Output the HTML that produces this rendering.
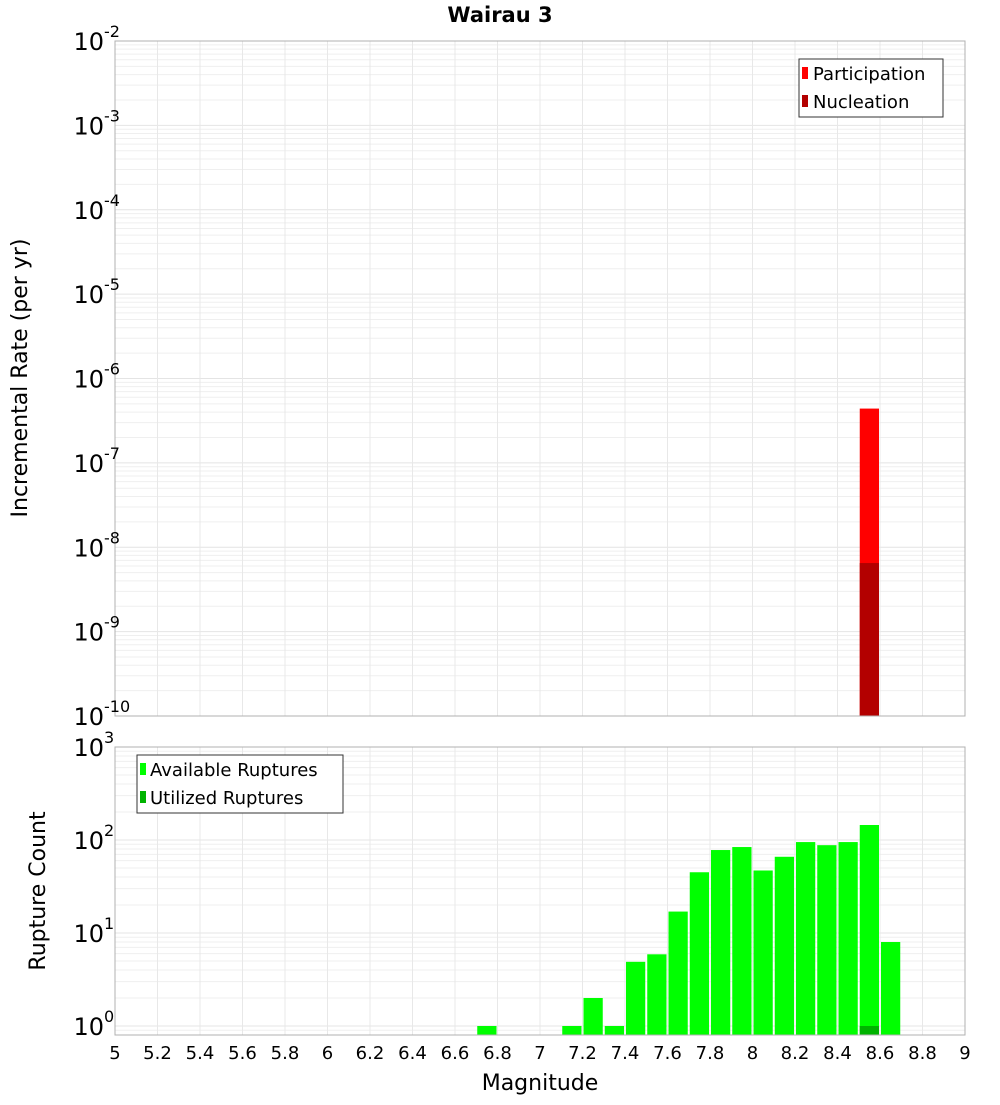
<!DOCTYPE html>
<html><head><meta charset="utf-8"><style>
body{margin:0;background:#fff}
svg{font-family:"DejaVu Sans","Liberation Sans",sans-serif}
</style></head><body>
<svg id="c" width="1000" height="1100" xmlns="http://www.w3.org/2000/svg">
<text x="500" y="22" text-anchor="middle" font-size="21" font-weight="bold">Wairau 3</text>
<g id="topPanel"></g>
<g id="botPanel"></g>
<text transform="translate(27,378) rotate(-90)" text-anchor="middle" font-size="22">Incremental Rate (per yr)</text>
<text transform="translate(45,891) rotate(-90)" text-anchor="middle" font-size="22">Rupture Count</text>
<text x="540" y="1090" text-anchor="middle" font-size="22">Magnitude</text>
<g>
<rect x="799" y="59" width="144" height="58" fill="#fff" stroke="#333"/>
<rect x="802" y="67" width="6" height="12" fill="#ff0000"/>
<text x="813" y="80" font-size="18">Participation</text>
<rect x="802" y="95" width="6" height="12" fill="#b30000"/>
<text x="813" y="108" font-size="18">Nucleation</text>
</g>
<g>
<rect x="137" y="755" width="206" height="58" fill="#fff" stroke="#333"/>
<rect x="140" y="763" width="6" height="12" fill="#00ff00"/>
<text x="150" y="776" font-size="18">Available Ruptures</text>
<rect x="140" y="791" width="6" height="12" fill="#00b300"/>
<text x="150" y="804" font-size="18">Utilized Ruptures</text>
</g>
</svg>
<script>
const xTicks=[5,5.2,5.4,5.6,5.8,6,6.2,6.4,6.6,6.8,7,7.2,7.4,7.6,7.8,8,8.2,8.4,8.6,8.8,9];
const rateBins=[8.5];
const participation=[4.4e-7];
const nucleation=[6.5e-9];
const countBins=[6.7,7.1,7.2,7.3,7.4,7.5,7.6,7.7,7.8,7.9,8.0,8.1,8.2,8.3,8.4,8.5,8.6];
const available=[1,1,2,1,4.9,5.9,17,45,78,84,47,66,95,88,95,145,8];
const utilizedBins=[8.5];
const utilized=[1];
const NS="http://www.w3.org/2000/svg";
const X0=115,X1=965;
const xs=m=>X0+(m-5)/4*(X1-X0);
function mk(p,t,a){const e=document.createElementNS(NS,t);for(const k in a)e.setAttribute(k,a[k]);p.appendChild(e);return e;}
function panel(g,yTop,yBot,eTop,eBot,lo,hi){
 const ys=v=>yTop+(eTop-Math.log10(v))/(eTop-eBot)*(yBot-yTop);
 for(let e=Math.floor(lo);e<hi;e++)for(let k=1;k<10;k++){const v=k*Math.pow(10,e);const y=ys(v);if(y<yTop||y>yBot)continue;
  const l=mk(g,'line',{x1:X0,x2:X1,y1:y,y2:y,stroke:k==1?'#e4e4e4':'#efefef','stroke-width':1});
  
  }
 xTicks.forEach(t=>{const l=mk(g,'line',{x1:xs(t),x2:xs(t),y1:yTop,y2:yBot,stroke:'#e8e8e8'});
  
  });
 return ys;
}
function ylabels(g,ys,eTop,eBot){for(let e=eBot;e<=eTop;e++){const y=ys(Math.pow(10,e));
 const t=mk(g,'text',{x:104,y:y+9,'text-anchor':'end','font-size':24});t.textContent='10';
 
 
 const s=mk(g,'text',{x:104,y:y-4,'font-size':16});s.textContent=String(e);
 
 }}
function bars(g,bins,vals,ys,yBot,col,name,gap){bins.forEach((m,i)=>{const y=ys(vals[i]);
 const r=mk(g,'rect',{x:xs(m)+gap,y:y,width:xs(m+0.1)-xs(m)-2*gap,height:yBot-y,fill:col});
 
 });}
const gTop=document.getElementById('topPanel'),gBot=document.getElementById('botPanel');
const ysT=panel(gTop,41,716,-2,-10,-10,-2);
bars(gTop,rateBins,participation,ysT,716,'#ff0000','participation-bar',1);
bars(gTop,rateBins,nucleation,ysT,716,'#b30000','nucleation-bar',1);
const f1=mk(gTop,'rect',{x:X0,y:41,width:X1-X0,height:675,fill:'none',stroke:'#b0b0b0'});


ylabels(gTop,ysT,-2,-10);
const bT=747,bB=1035,dec=93;const eBotB=-(bB-bT-3*dec)/dec;
const ysB=panel(gBot,bT,bB,3,eBotB,-1,3);
bars(gBot,countBins,available,ysB,bB,'#00ff00','available-bar',1);
bars(gBot,utilizedBins,utilized,ysB,bB,'#00b300','utilized-bar',1);
const f2=mk(gBot,'rect',{x:X0,y:bT,width:X1-X0,height:bB-bT,fill:'none',stroke:'#b0b0b0'});


ylabels(gBot,ysB,3,0);
xTicks.forEach(t=>{const e=mk(gBot,'text',{x:xs(t),y:1059,'text-anchor':'middle','font-size':18});e.textContent=String(t);
 
 });
</script>
</body></html>
